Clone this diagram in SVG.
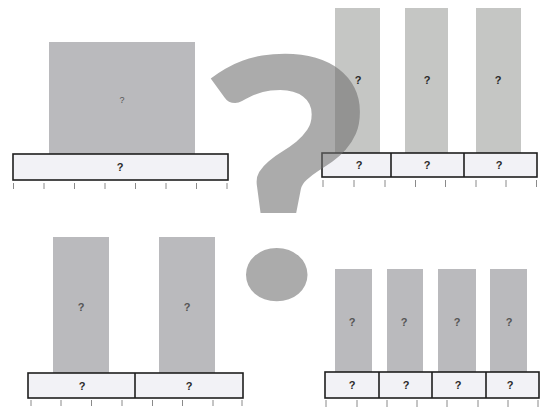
<svg xmlns="http://www.w3.org/2000/svg" width="543" height="407" viewBox="0 0 543 407">
<style>
.bar{fill:#bababd}
.barL{fill:#c5c6c4}
.box{fill:#f2f2f6;stroke:#1e1e1e;stroke-width:1.6}
.div{stroke:#1e1e1e;stroke-width:1.6}
.tk{stroke:#8a8a8a;stroke-width:1}
.lb{font-family:"Liberation Sans",Arial,sans-serif;font-weight:bold;font-size:11px;fill:#2a2a2a;text-anchor:middle}
.ls{font-family:"Liberation Sans",Arial,sans-serif;font-size:9px;fill:#555;text-anchor:middle}
.big{font-family:Lato,"Liberation Sans",sans-serif;font-weight:900;font-size:328px;fill:#6f6f6f;fill-opacity:0.58;text-anchor:middle}
</style>
<rect width="543" height="407" fill="#ffffff"/>

<g id="panel-top-left">
<rect class="bar" x="49" y="42" width="146" height="112"/>
<text class="ls" x="122" y="103">?</text>
<rect class="box" x="13" y="154" width="215" height="26"/>
<text class="lb" x="120" y="171">?</text>
<path class="tk" d="M13.5 183v6M44 183v6M74.5 183v6M105 183v6M135.5 183v6M166 183v6M196.5 183v6M227 183v6"/>
</g>

<g id="panel-top-right">
<rect class="barL" x="335" y="8" width="45" height="145"/>
<rect class="barL" x="405" y="8" width="43" height="145"/>
<rect class="barL" x="476" y="8" width="45" height="145"/>
<text class="lb" x="358" y="84">?</text>
<text class="lb" x="427" y="84">?</text>
<text class="lb" x="498" y="84">?</text>
<rect class="box" x="322" y="153" width="215" height="24"/>
<path class="div" d="M391 153v24M464 153v24"/>
<text class="lb" x="359" y="169">?</text>
<text class="lb" x="427" y="169">?</text>
<text class="lb" x="499" y="169">?</text>
<path class="tk" d="M323 180v7M354 180v7M385 180v7M415.5 180v7M445.5 180v7M476 180v7M506 180v7M536.5 180v7"/>
</g>

<g id="panel-bottom-left">
<rect class="bar" x="53" y="237" width="56" height="136"/>
<rect class="bar" x="159" y="237" width="56" height="136"/>
<text class="lb" x="81" y="311" style="fill:#555">?</text>
<text class="lb" x="187" y="311" style="fill:#555">?</text>
<rect class="box" x="28" y="373" width="215" height="25"/>
<path class="div" d="M135 373v25"/>
<text class="lb" x="82" y="390">?</text>
<text class="lb" x="189" y="390">?</text>
<path class="tk" d="M31 400v6M61 400v6M91.5 400v6M122 400v6M152.5 400v6M182.5 400v6M213 400v6M242 400v6"/>
</g>

<g id="panel-bottom-right">
<rect class="bar" x="335" y="269" width="37" height="103"/>
<rect class="bar" x="387" y="269" width="36" height="103"/>
<rect class="bar" x="438" y="269" width="38" height="103"/>
<rect class="bar" x="490" y="269" width="37" height="103"/>
<text class="lb" x="352" y="326" style="fill:#555">?</text>
<text class="lb" x="404" y="326" style="fill:#555">?</text>
<text class="lb" x="457" y="326" style="fill:#555">?</text>
<text class="lb" x="509" y="326" style="fill:#555">?</text>
<rect class="box" x="325" y="372" width="214" height="26"/>
<path class="div" d="M379 372v26M432 372v26M486 372v26"/>
<text class="lb" x="352" y="389">?</text>
<text class="lb" x="406" y="389">?</text>
<text class="lb" x="458" y="389">?</text>
<text class="lb" x="510" y="389">?</text>
<path class="tk" d="M326 400v7M357 400v7M387 400v7M417 400v7M447 400v7M478 400v7M508 400v7M538 400v7"/>
</g>

<g id="big-question-mark">
<text class="big" transform="translate(286,299) scale(1.15,1.02)" x="0" y="0">?</text>
</g>
</svg>
